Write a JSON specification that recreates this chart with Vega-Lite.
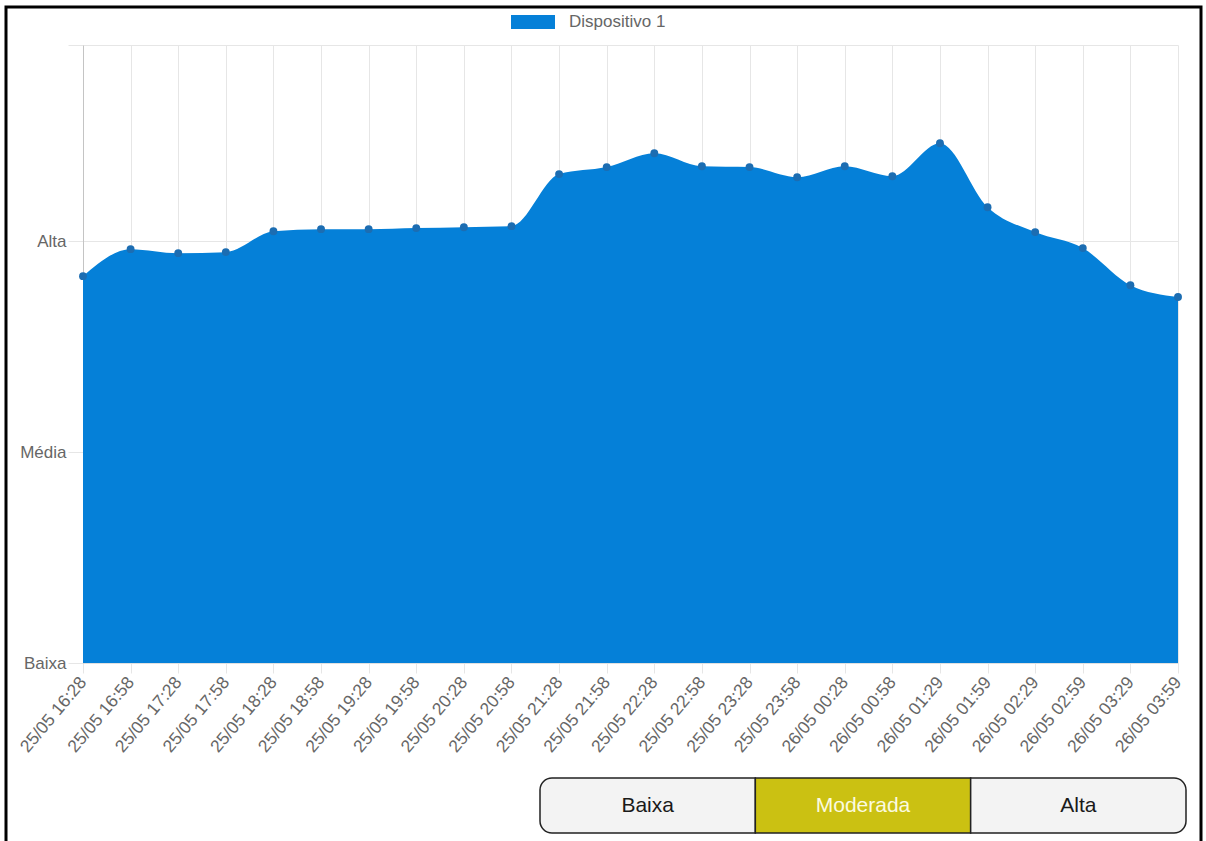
{
  "$schema": "https://vega.github.io/schema/vega-lite/v6.json",
  "width": 1095,
  "height": 618,
  "autosize": {"type": "none"},
  "padding": {"left": 83, "top": 45, "right": 28, "bottom": 178},
  "background": "white",
  "config": {
    "view": {"stroke": null},
    "font": "Liberation Sans",
    "axis": {"labelFont": "Liberation Sans", "labelColor": "#666666", "labelFontSize": 17}
  },
  "resolve": {"scale": {"x": "independent", "y": "independent", "color": "independent"}},
  "layer": [
    {
      "data": {
        "values": [
          {"hora": "25/05 16:28", "nivel": 1.834, "serie": "Dispositivo 1"},
          {"hora": "25/05 16:58", "nivel": 1.962, "serie": "Dispositivo 1"},
          {"hora": "25/05 17:28", "nivel": 1.943, "serie": "Dispositivo 1"},
          {"hora": "25/05 17:58", "nivel": 1.948, "serie": "Dispositivo 1"},
          {"hora": "25/05 18:28", "nivel": 2.047, "serie": "Dispositivo 1"},
          {"hora": "25/05 18:58", "nivel": 2.057, "serie": "Dispositivo 1"},
          {"hora": "25/05 19:28", "nivel": 2.057, "serie": "Dispositivo 1"},
          {"hora": "25/05 19:58", "nivel": 2.062, "serie": "Dispositivo 1"},
          {"hora": "25/05 20:28", "nivel": 2.066, "serie": "Dispositivo 1"},
          {"hora": "25/05 20:58", "nivel": 2.071, "serie": "Dispositivo 1"},
          {"hora": "25/05 21:28", "nivel": 2.318, "serie": "Dispositivo 1"},
          {"hora": "25/05 21:58", "nivel": 2.351, "serie": "Dispositivo 1"},
          {"hora": "25/05 22:28", "nivel": 2.417, "serie": "Dispositivo 1"},
          {"hora": "25/05 22:58", "nivel": 2.355, "serie": "Dispositivo 1"},
          {"hora": "25/05 23:28", "nivel": 2.351, "serie": "Dispositivo 1"},
          {"hora": "25/05 23:58", "nivel": 2.303, "serie": "Dispositivo 1"},
          {"hora": "26/05 00:28", "nivel": 2.355, "serie": "Dispositivo 1"},
          {"hora": "26/05 00:58", "nivel": 2.308, "serie": "Dispositivo 1"},
          {"hora": "26/05 01:29", "nivel": 2.464, "serie": "Dispositivo 1"},
          {"hora": "26/05 01:59", "nivel": 2.161, "serie": "Dispositivo 1"},
          {"hora": "26/05 02:29", "nivel": 2.043, "serie": "Dispositivo 1"},
          {"hora": "26/05 02:59", "nivel": 1.967, "serie": "Dispositivo 1"},
          {"hora": "26/05 03:29", "nivel": 1.791, "serie": "Dispositivo 1"},
          {"hora": "26/05 03:59", "nivel": 1.735, "serie": "Dispositivo 1"}
        ]
      },
      "encoding": {
        "x": {
          "field": "hora", "type": "ordinal", "sort": null,
          "scale": {"type": "point", "padding": 0},
          "axis": {
            "title": null, "grid": true, "gridColor": "#e6e6e6", "tickColor": "#e6e6e6",
            "tickSize": 10, "labelAngle": -50, "labelAlign": "right", "labelBaseline": "middle",
            "labelPadding": 6, "domainColor": "#e0e0e0", "labelOverlap": false, "labelFontSize": 17.5
          }
        },
        "y": {
          "field": "nivel", "type": "quantitative",
          "scale": {"domain": [0, 2.93], "nice": false, "zero": true},
          "axis": {
            "title": null, "values": [0, 1, 2, 2.93], "grid": true, "gridColor": "#e6e6e6",
            "tickColor": "#e6e6e6", "tickSize": 15, "labelPadding": 2, "domainColor": "#c4c4c4",
            "labelExpr": "datum.value == 0 ? 'Baixa' : datum.value == 1 ? 'Média' : datum.value == 2 ? 'Alta' : ''"
          }
        }
      },
      "layer": [
        {
          "mark": {"type": "area", "interpolate": "monotone", "opacity": 1},
          "encoding": {
            "color": {
              "field": "serie", "type": "nominal",
              "scale": {"domain": ["Dispositivo 1"], "range": ["#0580d8"]},
              "legend": {
                "title": null, "orient": "none", "legendX": 428, "legendY": -45,
                "symbolType": "M-1,-0.32L1,-0.32L1,0.32L-1,0.32Z", "symbolSize": 1936,
                "symbolStrokeWidth": 0, "symbolOpacity": 1,
                "labelFont": "Liberation Sans", "labelFontSize": 17, "labelColor": "#666666", "labelOffset": 14
              }
            }
          }
        },
        {
          "mark": {"type": "circle", "size": 62, "color": "#1c6db2", "opacity": 1}
        }
      ]
    },
    {
      "data": {"values": [{"botao": "Baixa"}, {"botao": "Moderada"}, {"botao": "Alta"}]},
      "encoding": {
        "x": {
          "field": "botao", "type": "nominal", "sort": ["Baixa", "Moderada", "Alta"],
          "scale": {"type": "band", "range": [457, 1103], "paddingInner": 0, "paddingOuter": 0},
          "axis": null
        },
        "y": {
          "datum": "botoes", "type": "nominal",
          "scale": {"type": "band", "domain": ["botoes"], "range": [733, 788], "paddingInner": 0, "paddingOuter": 0},
          "axis": null
        }
      },
      "layer": [
        {
          "transform": [{"filter": "datum.botao == 'Baixa'"}],
          "mark": {"type": "rect", "fill": "#f3f3f3", "stroke": "#222222", "strokeWidth": 1.5, "cornerRadiusTopLeft": 12, "cornerRadiusBottomLeft": 12}
        },
        {
          "transform": [{"filter": "datum.botao == 'Moderada'"}],
          "mark": {"type": "rect", "fill": "#cbc112", "stroke": "#222222", "strokeWidth": 1.5}
        },
        {
          "transform": [{"filter": "datum.botao == 'Alta'"}],
          "mark": {"type": "rect", "fill": "#f3f3f3", "stroke": "#222222", "strokeWidth": 1.5, "cornerRadiusTopRight": 12, "cornerRadiusBottomRight": 12}
        },
        {
          "mark": {"type": "text", "font": "Liberation Sans", "fontSize": 21, "baseline": "middle", "align": "center"},
          "encoding": {
            "text": {"field": "botao"},
            "color": {"condition": {"test": "datum.botao == 'Moderada'", "value": "#fbfbe0"}, "value": "#1a1a1a"}
          }
        }
      ]
    },
    {
      "data": {"values": [{"quadro": "moldura"}]},
      "mark": {"type": "rect", "fill": null, "stroke": "#000000", "strokeWidth": 3},
      "encoding": {
        "x": {
          "field": "quadro", "type": "nominal",
          "scale": {"type": "band", "range": [-77, 1118], "paddingInner": 0, "paddingOuter": 0},
          "axis": null
        },
        "y": {
          "field": "quadro", "type": "nominal",
          "scale": {"type": "band", "range": [-38, 860], "paddingInner": 0, "paddingOuter": 0},
          "axis": null
        }
      }
    }
  ]
}
